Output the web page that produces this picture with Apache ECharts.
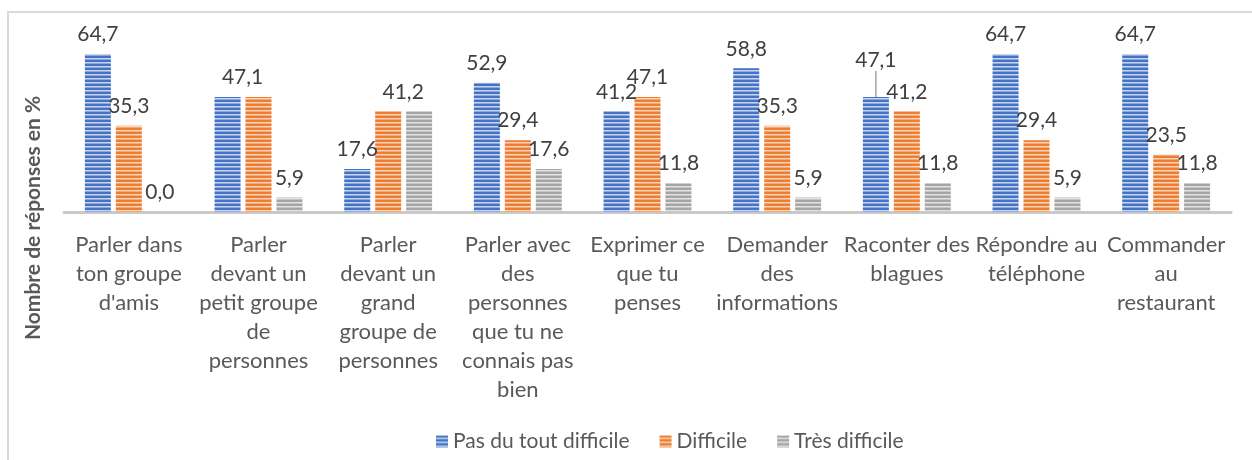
<!DOCTYPE html>
<html>
<head>
<meta charset="utf-8">
<script src="https://cdn.jsdelivr.net/npm/echarts@6/dist/echarts.min.js"></script>
<style>
  html, body { margin: 0; padding: 0; background: #fff; }
  #chart { width: 1252px; height: 460px; }
</style>
</head>
<body>
<div id="chart"></div>
<script>
// categories (wrapped as in the original chart)
const categories = [
  "Parler dans\nton groupe\nd'amis",
  'Parler\ndevant un\npetit groupe\nde\npersonnes',
  'Parler\ndevant un\ngrand\ngroupe de\npersonnes',
  'Parler avec\ndes\npersonnes\nque tu ne\nconnais pas\nbien',
  'Exprimer ce\nque tu\npenses',
  'Demander\ndes\ninformations',
  'Raconter des\nblagues',
  'Répondre au\ntéléphone',
  'Commander\nau\nrestaurant'
]
const pasDuToutDifficile = [64.7, 47.1, 17.6, 52.9, 41.2, 58.8, 47.1, 64.7, 64.7]
const difficile = [35.3, 47.1, 41.2, 29.4, 47.1, 35.3, 41.2, 29.4, 23.5]
const tresDifficile = [0.0, 5.9, 41.2, 17.6, 11.8, 5.9, 11.8, 5.9, 11.8]
const seriesNames = ['Pas du tout difficile', 'Difficile', 'Très difficile']
const allValues = [pasDuToutDifficile, difficile, tresDifficile]

// horizontal stripes like the excel fill
function stripes(base, light, mid) {
  const c = document.createElement('canvas')
  c.width = 4
  c.height = 4
  const ctx = c.getContext('2d')
  ctx.fillStyle = base
  ctx.fillRect(0, 0, 4, 4)
  ctx.fillStyle = light
  ctx.fillRect(0, 2, 4, 1)
  ctx.fillStyle = mid
  ctx.fillRect(0, 3, 4, 1)
  return { image: c, repeat: 'repeat' }
}

const fills = [
  stripes('#4472C4', '#c7d5ef', '#8eaadc'),
  stripes('#ED7D31', '#fad6bd', '#f3a877'),
  stripes('#A5A5A5', '#e4e4e4', '#c5c5c5')
]

// same value as the previous series -> only one label is shown (excel overlap)
const sameAsPrev = (i, idx) => i > 0 && allValues[i - 1][idx] === allValues[i][idx]
const sameAsNext = (i, idx) => i < allValues.length - 1 && allValues[i + 1][idx] === allValues[i][idx]

// the 47,1 of "Raconter des blagues" was pulled up with a leader line
const movedSeries = 0
const movedIndex = 6

const myChart = echarts.init(document.getElementById('chart'))

const seriesData = allValues.map((vals, i) => ({
  name: seriesNames[i],
  type: 'bar',
  data: vals.map((v, idx) => (i === movedSeries && idx === movedIndex)
    ? { value: v, label: { padding: [0, 0, 26, 0] }, labelLine: { show: true } }
    : v),
  barWidth: 26,
  barGap: '19%',
  itemStyle: { color: fills[i] },
  label: {
    show: true,
    position: 'top',
    distance: 0,
    padding: [0, 0, 9, 0],
    formatter: p => sameAsPrev(i, p.dataIndex) ? '' : p.value.toFixed(1).replace('.', ','),
    color: '#404040',
    fontFamily: 'Lato',
    fontSize: 21
  },
  labelLine: {
    show: false,
    lineStyle: { color: '#a6a6a6', width: 1.5 }
  },
  labelLayout: function (p) {
    if (sameAsNext(i, p.dataIndex)) return { dx: 15 }
    return {}
  }
}))

const myOption = {
  backgroundColor: '#ffffff',
  animation: false,
  grid: {
    left: 64,
    right: 21,
    top: 41,
    bottom: 248
  },
  xAxis: {
    type: 'category',
    data: categories,
    axisLine: { lineStyle: { color: '#c9c9c9', width: 3 } },
    axisTick: { show: false },
    axisLabel: {
      interval: 0,
      margin: 18,
      color: '#595959',
      fontFamily: 'Lato',
      fontSize: 22,
      lineHeight: 29,
      align: 'center'
    }
  },
  yAxis: {
    type: 'value',
    min: 0,
    max: 70,
    show: false
  },
  legend: {
    left: 431,
    top: 426,
    itemWidth: 12,
    itemHeight: 12,
    itemGap: 30,
    icon: 'rect',
    textStyle: {
      color: '#595959',
      fontFamily: 'Lato',
      fontSize: 21
    },
    data: seriesNames
  },
  graphic: [
    {
      type: 'line',
      shape: { x1: 7, y1: 12, x2: 1252, y2: 12 },
      style: { stroke: '#d9d9d9', lineWidth: 2 },
      silent: true
    },
    {
      type: 'line',
      shape: { x1: 8, y1: 12, x2: 8, y2: 460 },
      style: { stroke: '#d9d9d9', lineWidth: 2 },
      silent: true
    },
    {
      type: 'text',
      x: 33,
      y: 218,
      rotation: Math.PI / 2,
      style: {
        text: 'Nombre de réponses en %',
        fill: '#595959',
        font: 'bold 21px Lato',
        align: 'center',
        verticalAlign: 'middle'
      }
    }
  ],
  series: seriesData
}
myChart.setOption(myOption)
</script>
</body>
</html>
